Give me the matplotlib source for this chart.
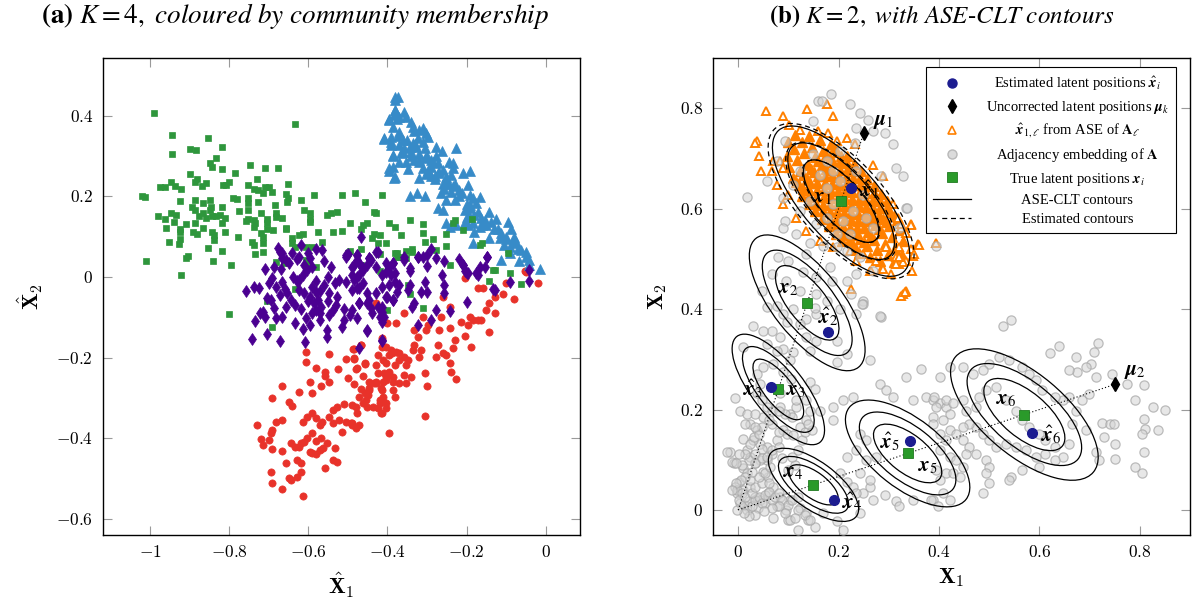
import numpy as np
import matplotlib.pyplot as plt
from matplotlib.patches import Ellipse
from matplotlib.lines import Line2D

plt.rcParams['font.family'] = ['Liberation Serif', 'DejaVu Serif']
plt.rcParams['mathtext.fontset'] = 'stix'

# ---------------- panel (a): K = 4 communities ----------------
green_sq = [(-0.99,0.407),(-0.635,0.38),(-0.944,0.352),(-0.853,0.345),(-0.944,0.305),(-0.899,0.318),(-0.884,0.315),(-0.818,0.323),(-0.835,0.295),(-0.848,0.283),(-0.845,0.273),(-0.818,0.268),(-0.787,0.258),(-0.749,0.278),(-0.709,0.27),(-0.676,0.27),(-0.899,0.256),(-0.886,0.236),(-0.881,0.243),(-0.858,0.233),(-0.87,0.226),(-0.975,0.223),(-0.962,0.223),(-0.949,0.236),(-0.937,0.226),(-0.922,0.218),(-1.02,0.201),(-1.013,0.199),(-0.924,0.189),(-0.886,0.191),(-0.848,0.191),(-0.868,0.184),(-0.815,0.228),(-0.808,0.228),(-0.8,0.236),(-0.792,0.196),(-0.782,0.194),(-0.752,0.228),(-0.739,0.218),(-0.727,0.216),(-0.729,0.243),(-0.709,0.223),(-0.699,0.223),(-0.716,0.208),(-0.691,0.211),(-0.651,0.231),(-0.754,0.196),(-0.752,0.184),(-0.754,0.166),(-0.727,0.186),(-0.656,0.206),(-0.651,0.196),(-0.653,0.186),(-0.62,0.191),(-0.587,0.203),(-0.516,0.203),(-0.481,0.208),(-0.458,0.186),(-0.413,0.203),(-0.684,0.179),(-0.894,0.174),(-0.886,0.166),(-0.868,0.159),(-0.848,0.166),(-0.947,0.159),(-0.934,0.154),(-0.98,0.151),(-0.962,0.144),(-0.939,0.136),(-0.911,0.131),(-0.886,0.134),(-0.876,0.151),(-0.858,0.146),(-0.843,0.151),(-0.833,0.151),(-0.823,0.154),(-0.81,0.146),(-0.82,0.134),(-0.818,0.174),(-0.846,0.174),(-0.775,0.164),(-0.759,0.139),(-0.752,0.144),(-0.739,0.141),(-0.734,0.134),(-0.739,0.124),(-0.719,0.159),(-0.706,0.144),(-0.704,0.134),(-0.706,0.119),(-0.681,0.159),(-0.681,0.149),(-0.668,0.146),(-0.658,0.122),(-0.61,0.166),(-0.595,0.159),(-0.597,0.144),(-0.597,0.136),(-0.552,0.154),(-0.542,0.159),(-0.529,0.161),(-0.96,0.122),(-0.924,0.119),(-0.924,0.112),(-0.891,0.112),(-0.881,0.107),(-0.866,0.122),(-0.924,0.094),(-0.927,0.082),(-0.952,0.087),(-0.843,0.112),(-0.838,0.104),(-0.838,0.092),(-0.81,0.112),(-0.777,0.099),(-0.853,0.072),(-0.82,0.065),(-0.909,0.047),(-0.904,0.052),(-1.01,0.04),(-0.841,0.04),(-0.922,0.005),(-0.795,0.03),(-0.742,0.087),(-0.737,0.079),(-0.714,0.084),(-0.716,0.099),(-0.719,0.109),(-0.734,0.057),(-0.714,0.062),(-0.689,0.117),(-0.658,0.119),(-0.641,0.097),(-0.641,0.084),(-0.625,0.104),(-0.615,0.107),(-0.633,0.074),(-0.605,0.074),(-0.592,0.074),(-0.565,0.087),(-0.577,0.112),(-0.539,0.112),(-0.516,0.114),(-0.494,0.134),(-0.463,0.129),(-0.453,0.134),(-0.468,0.119),(-0.397,0.134),(-0.38,0.124),(-0.433,0.161),(-0.43,0.159),(-0.435,0.107),(-0.418,0.104),(-0.423,0.084),(-0.403,0.084),(-0.44,0.097),(-0.499,0.06),(-0.494,0.065),(-0.466,0.069),(-0.605,0.042),(-0.6,0.03),(-0.58,0.025),(-0.681,0.037),(-0.661,0.035),(-0.382,0.06),(-0.375,0.05),(-0.418,0.015),(-0.367,0.104),(-0.344,0.141),(-0.309,0.131),(-0.311,0.109),(-0.306,0.087),(-0.286,0.094),(-0.251,0.107),(-0.251,0.077),(-0.278,0.067),(-0.233,0.134),(-0.228,0.141),(-0.21,0.117),(-0.185,0.144),(-0.162,0.084),(-0.167,0.079),(-0.094,0.06),(-0.129,0.017),(-0.091,0.01),(-0.243,0.03),(-0.337,0.069),(-0.352,0.065),(-0.377,0.06),(-0.132,0.017),(-0.142,-0.01),(-0.063,-0.017),(-0.342,-0.042),(-0.309,-0.077),(-0.4,-0.082),(-0.418,0.057),(-0.37,0.05),(-0.352,0.047),(-0.337,0.062),(-0.413,0.01),(-0.466,0.03),(-0.349,-0.02),(-0.8,-0.092),(-0.691,-0.124),(-0.704,-0.06),(-0.633,-0.03)]

purple_dm = [(-0.759,-0.035),(-0.739,-0.025),(-0.724,-0.027),(-0.711,0.02),(-0.673,0.062),(-0.666,0.047),(-0.648,0.035),(-0.699,-0.015),(-0.691,-0.002),(-0.681,-0.025),(-0.668,-0.012),(-0.704,-0.052),(-0.694,-0.057),(-0.673,-0.045),(-0.686,-0.077),(-0.734,-0.109),(-0.722,-0.089),(-0.711,-0.099),(-0.716,-0.087),(-0.744,-0.154),(-0.704,-0.141),(-0.673,-0.159),(-0.681,-0.102),(-0.666,-0.099),(-0.656,-0.074),(-0.643,-0.057),(-0.653,-0.04),(-0.635,-0.069),(-0.633,-0.114),(-0.615,-0.129),(-0.605,-0.102),(-0.595,-0.119),(-0.608,-0.161),(-0.623,-0.007),(-0.615,0.005),(-0.603,0.017),(-0.59,0.025),(-0.623,-0.032),(-0.61,-0.04),(-0.597,-0.05),(-0.59,-0.025),(-0.58,-0.037),(-0.577,-0.057),(-0.567,-0.074),(-0.572,-0.089),(-0.58,-0.082),(-0.585,-0.065),(-0.572,-0.107),(-0.552,-0.132),(-0.552,-0.149),(-0.547,-0.094),(-0.539,-0.082),(-0.527,-0.05),(-0.547,-0.04),(-0.534,-0.015),(-0.522,-0.007),(-0.504,-0.012),(-0.489,-0.032),(-0.471,-0.027),(-0.463,-0.015),(-0.478,0.0),(-0.453,-0.04),(-0.446,-0.057),(-0.471,-0.065),(-0.489,-0.082),(-0.478,-0.102),(-0.496,-0.094),(-0.509,-0.107),(-0.516,-0.124),(-0.451,-0.134),(-0.438,-0.089),(-0.425,-0.074),(-0.415,-0.087),(-0.408,-0.099),(-0.413,-0.112),(-0.415,-0.159),(-0.471,-0.176),(-0.428,-0.04),(-0.413,-0.025),(-0.4,-0.05),(-0.387,-0.057),(-0.39,0.005),(-0.382,-0.012),(-0.395,0.022),(-0.403,0.035),(-0.504,0.055),(-0.489,0.025),(-0.476,0.042),(-0.453,0.03),(-0.428,0.025),(-0.415,0.005),(-0.676,0.072),(-0.668,0.06),(-0.656,0.042),(-0.641,0.06),(-0.623,0.05),(-0.595,0.047),(-0.565,0.067),(-0.542,0.025),(-0.504,0.05),(-0.478,0.055),(-0.471,0.035),(-0.428,0.062),(-0.441,0.042),(-0.463,0.017),(-0.489,0.005),(-0.686,0.025),(-0.466,0.099),(-0.291,0.069),(-0.322,0.05),(-0.299,0.027),(-0.276,0.047),(-0.258,0.04),(-0.22,0.045),(-0.21,0.03),(-0.2,0.01),(-0.177,0.01),(-0.167,0.025),(-0.147,0.05),(-0.041,0.017),(-0.357,0.05),(-0.344,0.015),(-0.385,0.035),(-0.403,0.012),(-0.425,0.062),(-0.446,0.047),(-0.476,0.055),(-0.501,0.057),(-0.484,0.03),(-0.149,0.05),(-0.205,0.015),(-0.197,0.01),(-0.21,0.03),(-0.154,0.025),(-0.172,0.005),(-0.132,-0.03),(-0.129,-0.032),(-0.091,-0.012),(-0.041,-0.01),(-0.2,-0.062),(-0.256,-0.02),(-0.256,-0.04),(-0.243,-0.084),(-0.276,-0.082),(-0.291,-0.107),(-0.322,-0.119),(-0.263,0.005),(-0.299,0.055),(-0.324,0.05),(-0.299,-0.037),(-0.306,-0.012),(-0.314,-0.037),(-0.332,-0.065),(-0.337,-0.074),(-0.344,-0.02),(-0.349,-0.032),(-0.37,-0.02),(-0.377,-0.037),(-0.387,-0.057),(-0.403,-0.05),(-0.395,-0.02),(-0.413,-0.074),(-0.42,-0.099),(-0.451,-0.132),(-0.415,-0.156),(-0.441,-0.077),(-0.453,-0.065),(-0.471,-0.065),(-0.476,-0.027),(-0.484,-0.007),(-0.471,0.005),(-0.463,0.022),(-0.446,0.047),(-0.387,0.035),(-0.382,0.01),(-0.357,0.042),(-0.344,0.022),(-0.311,0.05),(-0.6,-0.06),(-0.62,-0.08),(-0.59,-0.09),(-0.63,-0.01),(-0.64,0.0),(-0.58,-0.01),(-0.56,-0.02),(-0.61,0.03),(-0.55,0.0),(-0.66,-0.03),(-0.67,0.02),(-0.6,0.06),(-0.62,0.08),(-0.63,0.045),(-0.56,0.04),(-0.58,0.07),(-0.55,-0.06),(-0.57,-0.035),(-0.53,-0.07),(-0.51,-0.08)]

red_ci = [(-0.605,-0.186),(-0.605,-0.211),(-0.582,-0.226),(-0.549,-0.191),(-0.557,-0.236),(-0.559,-0.246),(-0.547,-0.261),(-0.524,-0.228),(-0.501,-0.251),(-0.478,-0.226),(-0.504,-0.203),(-0.484,-0.203),(-0.458,-0.213),(-0.484,-0.179),(-0.466,-0.169),(-0.595,-0.261),(-0.567,-0.271),(-0.59,-0.288),(-0.623,-0.285),(-0.666,-0.271),(-0.691,-0.301),(-0.648,-0.31),(-0.641,-0.32),(-0.668,-0.355),(-0.681,-0.36),(-0.691,-0.38),(-0.694,-0.387),(-0.729,-0.367),(-0.719,-0.402),(-0.716,-0.417),(-0.699,-0.404),(-0.691,-0.427),(-0.666,-0.432),(-0.643,-0.412),(-0.635,-0.422),(-0.623,-0.422),(-0.618,-0.412),(-0.61,-0.41),(-0.603,-0.4),(-0.59,-0.387),(-0.58,-0.407),(-0.567,-0.4),(-0.554,-0.412),(-0.562,-0.424),(-0.572,-0.429),(-0.58,-0.439),(-0.597,-0.434),(-0.613,-0.36),(-0.603,-0.347),(-0.592,-0.337),(-0.58,-0.35),(-0.572,-0.367),(-0.565,-0.36),(-0.547,-0.347),(-0.539,-0.33),(-0.527,-0.323),(-0.509,-0.315),(-0.489,-0.318),(-0.471,-0.298),(-0.458,-0.288),(-0.446,-0.275),(-0.428,-0.263),(-0.403,-0.256),(-0.395,-0.243),(-0.387,-0.261),(-0.413,-0.281),(-0.42,-0.305),(-0.403,-0.313),(-0.415,-0.337),(-0.395,-0.387),(-0.425,-0.325),(-0.453,-0.323),(-0.476,-0.337),(-0.489,-0.362),(-0.504,-0.36),(-0.522,-0.355),(-0.539,-0.362),(-0.514,-0.385),(-0.489,-0.367),(-0.534,-0.424),(-0.527,-0.459),(-0.539,-0.454),(-0.559,-0.474),(-0.59,-0.437),(-0.694,-0.484),(-0.691,-0.511),(-0.668,-0.526),(-0.648,-0.499),(-0.643,-0.504),(-0.63,-0.496),(-0.618,-0.484),(-0.615,-0.543),(-0.656,-0.462),(-0.63,-0.454),(-0.618,-0.462),(-0.428,-0.065),(-0.4,-0.114),(-0.413,-0.151),(-0.413,-0.174),(-0.395,-0.194),(-0.382,-0.218),(-0.387,-0.248),(-0.408,-0.238),(-0.428,-0.261),(-0.486,-0.179),(-0.467,-0.169),(-0.484,-0.202),(-0.479,-0.227),(-0.458,-0.216),(-0.462,-0.246),(-0.484,-0.266),(-0.467,-0.279),(-0.45,-0.293),(-0.479,-0.322),(-0.462,-0.312),(-0.454,-0.305),(-0.492,-0.363),(-0.479,-0.375),(-0.473,-0.367),(-0.437,-0.322),(-0.42,-0.312),(-0.416,-0.338),(-0.403,-0.326),(-0.306,-0.345),(-0.3,-0.27),(-0.306,-0.239),(-0.226,-0.254),(-0.239,-0.235),(-0.243,-0.214),(-0.251,-0.194),(-0.277,-0.198),(-0.26,-0.189),(-0.235,-0.177),(-0.273,-0.169),(-0.27,-0.132),(-0.243,-0.127),(-0.213,-0.111),(-0.197,-0.119),(-0.192,-0.098),(-0.184,-0.107),(-0.171,-0.107),(-0.163,-0.107),(-0.142,-0.136),(-0.188,-0.173),(-0.205,-0.146),(-0.23,-0.156),(-0.264,-0.098),(-0.298,-0.119),(-0.302,-0.132),(-0.311,-0.098),(-0.332,-0.132),(-0.323,-0.15),(-0.332,-0.169),(-0.336,-0.181),(-0.315,-0.181),(-0.319,-0.198),(-0.357,-0.198),(-0.353,-0.218),(-0.37,-0.206),(-0.378,-0.185),(-0.391,-0.181),(-0.403,-0.173),(-0.412,-0.206),(-0.429,-0.218),(-0.425,-0.239),(-0.412,-0.26),(-0.403,-0.247),(-0.387,-0.28),(-0.382,-0.297),(-0.412,-0.297),(-0.416,-0.276),(-0.433,-0.264),(-0.446,-0.26),(-0.357,-0.243),(-0.353,-0.264),(-0.37,-0.264),(-0.34,-0.247),(-0.357,-0.089),(-0.378,-0.115),(-0.425,-0.194),(-0.403,-0.214),(-0.388,-0.189),(-0.37,-0.189),(-0.349,-0.206),(-0.395,-0.235),(-0.446,-0.28),(-0.26,-0.049),(-0.243,-0.074),(-0.15,-0.082),(-0.142,-0.065),(-0.129,-0.049),(-0.108,-0.041),(-0.08,-0.055),(-0.1,-0.016),(-0.159,-0.028),(-0.171,-0.027),(-0.205,-0.003),(-0.051,0.016),(-0.019,-0.014),(-0.129,-0.09),(-0.049,0.013)]

blue_tri = [(-0.374,0.446),(-0.382,0.439),(-0.381,0.414),(-0.384,0.402),(-0.357,0.41),(-0.353,0.396),(-0.395,0.391),(-0.376,0.391),(-0.371,0.396),(-0.387,0.373),(-0.34,0.385),(-0.336,0.373),(-0.332,0.361),(-0.319,0.365),(-0.311,0.369),(-0.302,0.357),(-0.298,0.348),(-0.41,0.342),(-0.391,0.348),(-0.374,0.35),(-0.391,0.328),(-0.387,0.299),(-0.371,0.328),(-0.361,0.34),(-0.357,0.319),(-0.365,0.307),(-0.344,0.323),(-0.336,0.332),(-0.327,0.323),(-0.323,0.344),(-0.309,0.336),(-0.304,0.319),(-0.319,0.305),(-0.34,0.299),(-0.353,0.286),(-0.37,0.286),(-0.385,0.274),(-0.397,0.264),(-0.384,0.246),(-0.349,0.267),(-0.332,0.29),(-0.319,0.284),(-0.306,0.294),(-0.277,0.322),(-0.262,0.313),(-0.277,0.299),(-0.285,0.286),(-0.273,0.282),(-0.289,0.274),(-0.298,0.266),(-0.302,0.256),(-0.319,0.245),(-0.289,0.251),(-0.281,0.242),(-0.273,0.257),(-0.26,0.266),(-0.251,0.249),(-0.245,0.286),(-0.235,0.282),(-0.226,0.321),(-0.233,0.27),(-0.239,0.253),(-0.228,0.231),(-0.218,0.216),(-0.233,0.226),(-0.247,0.231),(-0.258,0.218),(-0.264,0.208),(-0.251,0.191),(-0.273,0.17),(-0.26,0.166),(-0.209,0.257),(-0.192,0.264),(-0.197,0.228),(-0.211,0.208),(-0.192,0.203),(-0.184,0.195),(-0.167,0.199),(-0.175,0.183),(-0.192,0.179),(-0.205,0.166),(-0.192,0.15),(-0.18,0.154),(-0.163,0.146),(-0.154,0.141),(-0.142,0.16),(-0.137,0.137),(-0.125,0.143),(-0.15,0.129),(-0.167,0.125),(-0.184,0.133),(-0.205,0.137),(-0.226,0.129),(-0.243,0.125),(-0.251,0.133),(-0.095,0.137),(-0.087,0.118),(-0.112,0.108),(-0.116,0.096),(-0.1,0.094),(-0.083,0.084),(-0.074,0.088),(-0.106,0.079),(-0.091,0.075),(-0.184,0.084),(-0.142,0.096),(-0.062,0.067),(-0.049,0.063),(-0.041,0.042),(-0.066,0.04),(-0.041,0.03),(-0.015,0.02),(-0.112,0.042),(-0.344,0.202),(-0.325,0.208),(-0.306,0.202),(-0.197,0.129),(-0.18,0.112),(-0.38,0.447),(-0.382,0.414),(-0.395,0.39),(-0.408,0.344),(-0.391,0.336),(-0.387,0.303),(-0.395,0.27),(-0.382,0.249),(-0.33,0.33),(-0.35,0.34),(-0.3,0.3),(-0.29,0.29),(-0.31,0.27),(-0.27,0.26),(-0.28,0.25),(-0.25,0.24),(-0.26,0.23),(-0.24,0.21),(-0.22,0.2),(-0.23,0.19),(-0.2,0.18),(-0.19,0.17),(-0.17,0.16),(-0.2,0.15),(-0.16,0.13),(-0.13,0.12),(-0.12,0.12),(-0.1,0.1),(-0.08,0.1),(-0.07,0.07),(-0.05,0.05),(-0.09,0.06),(-0.37,0.36),(-0.36,0.31),(-0.34,0.31),(-0.32,0.29)]

# ---------------- panel (b): K = 2 with ASE-CLT contours ----------------
grey_pts = [(0.185,0.828),(0.222,0.809),(0.160,0.814),(0.166,0.814),(0.149,0.775),(0.242,0.790),(0.235,0.761),(0.269,0.754),(0.292,0.751),(0.232,0.731),(0.328,0.665),(0.335,0.602),(0.321,0.562),(0.285,0.665),(0.017,0.624),(0.093,0.575),(0.090,0.562),(0.116,0.549),(0.143,0.532),(0.169,0.526),(0.196,0.523),(0.216,0.516),(0.242,0.503),(0.269,0.476),(0.235,0.470),(0.182,0.483),(0.136,0.509),(0.100,0.496),(0.080,0.503),(0.130,0.473),(0.156,0.463),(0.186,0.456),(0.216,0.456),(0.225,0.430),(0.249,0.417),(0.202,0.400),(0.176,0.417),(0.156,0.430),(0.123,0.437),(0.096,0.456),(0.067,0.470),(0.047,0.437),(0.057,0.404),(0.090,0.390),(0.156,0.390),(0.136,0.380),
(0.163,0.668),(0.189,0.675),(0.176,0.642),(0.202,0.655),(0.235,0.675),(0.249,0.628),(0.229,0.595),(0.255,0.582),(0.209,0.575),(0.176,0.582),(0.143,0.615),(0.189,0.609),(0.269,0.562),(0.222,0.549),(0.196,0.549),(0.156,0.569),(0.123,0.595),(0.110,0.648),(0.123,0.675),(0.149,0.708),(0.176,0.694),(0.202,0.714),(0.315,0.681),(0.308,0.728),(0.259,0.777),(0.093,0.734),(0.077,0.694),(0.057,0.655),(0.090,0.622),
(0.077,0.407),(0.110,0.400),(0.153,0.403),(0.097,0.374),(0.123,0.370),(0.136,0.344),(0.156,0.337),(0.196,0.337),(0.196,0.294),(0.216,0.311),(0.235,0.390),(0.249,0.410),(0.285,0.385),(0.262,0.298),(0.143,0.317),(0.110,0.314),(0.090,0.321),(0.103,0.298),(0.083,0.344),(0.067,0.357),
(0.030,0.367),(0.050,0.357),(0.057,0.331),(0.077,0.317),(0.010,0.324),(-0.006,0.222),(0.004,0.198),(0.024,0.172),(0.037,0.159),(0.044,0.132),(0.030,0.139),(0.010,0.142),(0.017,0.119),(0.024,0.106),(0.057,0.126),(0.067,0.112),(0.057,0.099),(0.044,0.099),(0.034,0.093),(-0.009,0.093),(-0.016,0.116),(0.010,0.083),(0.017,0.073),(0.001,0.056),(-0.006,0.046),(-0.003,0.033),(0.010,0.040),(0.024,0.046),(0.034,0.026),(0.044,0.020),(0.054,0.013),(0.040,0.003),(0.017,0.007),(0.004,0.013),(0.060,0.033),(0.070,0.046),(0.083,0.026),(0.077,0.007),(0.096,0.000),(0.103,0.020),(0.123,0.003),(0.136,-0.007),(0.139,-0.020),(0.100,-0.020),(0.070,-0.016),(0.060,0.066),(0.050,0.076),(0.067,0.172),(0.090,0.159),(0.097,0.152),(0.110,0.149),(0.123,0.165),(0.136,0.179),(0.037,0.232),(0.047,0.218),(0.057,0.205),(0.050,0.185),(0.083,0.205),(0.103,0.192),(0.116,0.205),(0.037,0.271),(0.050,0.284),(0.070,0.291),(0.090,0.274),(0.106,0.261),(0.143,0.255),(0.153,0.241),(0.136,0.218),(0.116,0.218),(0.083,0.232),(0.044,0.251),
(0.143,0.198),(0.163,0.198),(0.189,0.205),(0.189,0.179),(0.209,0.218),(0.229,0.225),(0.282,0.251),(0.295,0.238),(0.308,0.225),(0.335,0.265),(0.364,0.281),(0.348,0.218),(0.374,0.225),(0.388,0.218),(0.401,0.212),(0.414,0.205),(0.421,0.159),(0.388,0.185),(0.242,0.152),(0.255,0.139),(0.235,0.119),(0.216,0.106),(0.202,0.073),(0.216,0.056),(0.229,0.046),(0.249,0.033),(0.262,0.046),(0.269,0.020),(0.242,0.073),(0.255,0.099),(0.275,0.106),(0.235,0.033),(0.292,0.030),(0.315,0.017),(0.262,0.060),(0.242,-0.007),(0.169,-0.007),(0.153,-0.033),(0.196,-0.023),(0.209,-0.040),(0.120,-0.040),(0.103,-0.020),(0.321,0.007),(0.348,0.020),(0.388,0.020),(0.407,0.033),(0.414,0.073),(0.401,0.060),(0.421,0.020),
(-0.002,0.040),(0.008,0.033),(0.001,0.020),(0.011,0.010),(0.021,0.017),(0.018,0.000),(0.028,0.007),(0.034,0.020),(0.041,0.026),(0.048,0.013),(0.054,0.030),(0.061,0.036),(0.067,0.020),(0.074,0.026),(0.081,0.033),(0.087,0.020),(0.014,0.026),(0.028,0.033),(0.034,0.046),(0.048,0.053),(0.061,0.053),(0.024,0.060),(0.014,0.066),(0.005,0.060),(-0.005,0.053),(-0.012,0.040),(0.041,0.066),(0.054,0.073),(0.028,0.076),(0.034,0.093),(0.021,0.099),(0.014,0.112),(0.034,0.112),(0.024,0.132),(0.031,0.146),(0.041,0.152),(0.048,0.165),(0.034,0.165),(0.014,0.172),(0.018,0.192),(0.034,0.192),(0.048,0.122),(0.048,0.103),(0.058,0.106),(0.067,0.119),(0.077,0.139),(0.081,0.155),(0.081,0.126),(0.087,0.103),(0.064,0.086),(-0.012,0.096),(-0.022,0.116),(0.001,0.112),(0.008,0.089),(-0.005,0.093),(0.100,0.010),(0.107,0.020),(0.120,0.026),(0.081,0.007),(0.067,0.003),(0.051,-0.003),(0.034,-0.010),(0.021,-0.013),(0.011,-0.007),(-0.002,0.000),(0.094,-0.007),(0.120,0.000),(0.114,-0.016),(0.134,-0.010),(0.143,-0.020),(0.100,0.079),(0.114,0.089),(0.107,0.106),(0.120,0.119),(0.127,0.139),(0.134,0.155),(0.147,0.159),(0.140,0.172),(0.107,0.185),(0.094,0.192),(0.067,0.198),(0.061,0.179),(0.081,0.198),
(0.528,0.366),(0.543,0.379),(0.639,0.327),(0.622,0.312),(0.672,0.304),(0.708,0.314),(0.717,0.332),(0.703,0.291),(0.692,0.284),(0.675,0.274),(0.659,0.278),(0.712,0.265),(0.745,0.271),(0.775,0.251),(0.808,0.248),(0.791,0.218),(0.827,0.205),(0.851,0.200),(0.808,0.182),(0.837,0.159),(0.811,0.162),(0.804,0.152),(0.725,0.174),(0.741,0.172),(0.748,0.172),(0.728,0.146),(0.751,0.132),(0.712,0.116),(0.718,0.099),(0.751,0.102),(0.808,0.116),(0.804,0.073),(0.791,0.086),(0.692,0.159),(0.665,0.172),(0.672,0.198),(0.685,0.218),(0.698,0.231),(0.659,0.225),(0.646,0.218),(0.632,0.225),(0.606,0.238),(0.593,0.258),(0.579,0.271),(0.566,0.284),(0.540,0.298),(0.520,0.304),(0.500,0.291),(0.487,0.278),(0.467,0.271),(0.447,0.284),(0.421,0.284),(0.401,0.265),(0.391,0.225),(0.394,0.205),(0.414,0.218),(0.427,0.212),(0.421,0.192),(0.407,0.179),(0.388,0.172),(0.447,0.218),(0.454,0.198),(0.474,0.205),(0.480,0.225),(0.493,0.238),(0.513,0.245),(0.533,0.218),(0.553,0.198),(0.566,0.179),(0.579,0.165),(0.599,0.152),(0.612,0.139),(0.632,0.126),(0.659,0.132),(0.646,0.106),(0.612,0.112),(0.593,0.106),(0.573,0.119),(0.553,0.126),(0.533,0.132),(0.513,0.126),(0.500,0.139),(0.487,0.152),(0.474,0.165),(0.460,0.172),(0.447,0.165),(0.434,0.152),(0.447,0.139),(0.460,0.126),(0.474,0.112),(0.493,0.099),(0.500,0.086),(0.493,0.073),(0.543,0.066),(0.540,0.060),(0.500,0.053),(0.487,0.033),(0.566,0.079),(0.599,0.086),(0.632,0.099),(0.401,0.152),(0.414,0.139),(0.401,0.119),(0.421,0.106),(0.434,0.099),(0.447,0.086),(0.454,0.112),(0.394,0.079),(0.427,0.073),(0.441,0.066),(0.398,0.007),(0.384,0.020),
(0.337,0.602),(0.395,0.526),(0.247,0.411),(0.283,0.386)]

orange_core = [(0.114,0.747),(0.099,0.733),(0.127,0.732),(0.112,0.718),(0.142,0.745),(0.097,0.705),(0.132,0.710),(0.147,0.723),(0.117,0.697),(0.162,0.737),(0.102,0.684),(0.154,0.702),(0.139,0.688),(0.169,0.715),(0.124,0.675),(0.184,0.728),(0.109,0.662),(0.167,0.687),(0.152,0.673),(0.182,0.700),(0.137,0.660),(0.197,0.713),(0.122,0.647),(0.172,0.665),(0.187,0.678),(0.157,0.652),(0.202,0.692),(0.142,0.638),(0.217,0.705),(0.127,0.625),(0.186,0.650),(0.201,0.663),(0.171,0.637),(0.216,0.677),(0.156,0.623),(0.231,0.690),(0.141,0.610),(0.199,0.635),(0.214,0.648),(0.184,0.622),(0.229,0.662),(0.169,0.608),(0.244,0.675),(0.154,0.595),(0.212,0.620),(0.227,0.633),(0.197,0.607),(0.242,0.647),(0.182,0.593),(0.257,0.660),(0.167,0.580),(0.225,0.605),(0.240,0.618),(0.210,0.592),(0.255,0.632),(0.195,0.578),(0.270,0.645),(0.180,0.565),(0.239,0.590),(0.254,0.603),(0.224,0.577),(0.269,0.617),(0.209,0.563),(0.284,0.630),(0.194,0.550),(0.252,0.575),(0.267,0.588),(0.237,0.562),(0.282,0.602),(0.222,0.548),(0.297,0.615),(0.207,0.535),(0.273,0.567),(0.258,0.553),(0.288,0.580),(0.243,0.540),(0.303,0.593),(0.228,0.527),(0.286,0.552),(0.271,0.538),(0.301,0.565),(0.256,0.525),(0.316,0.578),(0.241,0.512),(0.292,0.530),(0.307,0.543),(0.277,0.517),(0.322,0.557),(0.262,0.504),(0.313,0.522),(0.298,0.508),(0.328,0.535),(0.283,0.495),(0.326,0.507),(0.311,0.493),
(0.160,0.694),(0.145,0.680),(0.175,0.707),(0.130,0.667),(0.190,0.720),(0.115,0.654),(0.174,0.679),(0.159,0.665),(0.189,0.692),(0.144,0.652),(0.204,0.705),(0.129,0.639),(0.187,0.665),(0.172,0.651),(0.202,0.678),(0.157,0.638),(0.217,0.691),(0.142,0.625),(0.200,0.650),(0.185,0.636),(0.215,0.663),(0.170,0.623),(0.230,0.676),(0.155,0.610),(0.213,0.635),(0.198,0.621),(0.228,0.648),(0.183,0.608),(0.243,0.661),(0.168,0.595),(0.227,0.620),(0.212,0.606),(0.242,0.633),(0.197,0.593),(0.257,0.646),(0.182,0.580),(0.240,0.605),(0.225,0.591),(0.255,0.618),(0.210,0.578),(0.270,0.631),(0.195,0.565),(0.253,0.589),(0.238,0.575),(0.268,0.602),(0.223,0.562),(0.283,0.615),(0.208,0.549),(0.266,0.575),(0.251,0.561),(0.281,0.588),(0.236,0.548),(0.296,0.601),(0.221,0.535),(0.280,0.560),(0.265,0.546),(0.295,0.573),(0.250,0.533),(0.310,0.586),(0.235,0.520)]

orange_out = [(0.056,0.794),(0.090,0.785),(0.138,0.799),(0.176,0.809),(0.189,0.784),(0.037,0.734),(0.034,0.731),(0.042,0.704),(0.045,0.676),(0.077,0.648),(0.102,0.767),(0.123,0.757),(0.159,0.754),(0.179,0.751),(0.196,0.734),(0.216,0.741),(0.232,0.728),(0.268,0.688),(0.288,0.665),(0.308,0.609),(0.318,0.582),(0.325,0.562),(0.345,0.569),(0.358,0.529),(0.345,0.519),(0.348,0.506),(0.335,0.496),(0.321,0.490),(0.315,0.503),(0.287,0.482),(0.262,0.476),(0.235,0.496),(0.225,0.440),(0.328,0.430),(0.335,0.437),(0.395,0.532),(0.305,0.470),(0.275,0.496),(0.295,0.523),(0.321,0.523),(0.090,0.681),(0.083,0.694),(0.070,0.694),(0.067,0.675),(0.100,0.628),(0.090,0.609),(0.116,0.582),(0.136,0.556),(0.163,0.536),(0.189,0.523),(0.222,0.516),(0.249,0.509),(0.345,0.567),(0.360,0.528),(0.346,0.476),(0.325,0.426),(0.333,0.435),(0.351,0.509),(0.328,0.493),(0.288,0.479),(0.265,0.476),(0.315,0.489),(0.321,0.503),(0.325,0.569),(0.335,0.552)]

true_x = [0.2050, 0.1375, 0.0800, 0.1500, 0.3375, 0.5700]
true_y = [0.6150, 0.4125, 0.2400, 0.0500, 0.1125, 0.1900]
est_x = [0.224, 0.179, 0.066, 0.190, 0.343, 0.586]
est_y = [0.641, 0.355, 0.244, 0.020, 0.138, 0.153]
mu_x = [0.25, 0.75]
mu_y = [0.75, 0.25]

# outer contour semi-axes and tilt of each ASE-CLT ellipse
ell_a = [0.188, 0.164, 0.134, 0.106, 0.148, 0.179]
ell_b = [0.076, 0.0685, 0.0514, 0.0466, 0.069, 0.082]
ell_ang = [-48.6, -51.5, -51.9, -36.1, -38.2, -39.9]
levels = [0.549, 0.776, 1.0]

lab_true = [(0.169,0.622),(0.100,0.440),(0.116,0.238),(0.110,0.073),(0.378,0.086),(0.533,0.220)]
lab_est = [(0.262,0.638),(0.179,0.384),(0.030,0.241),(0.228,0.016),(0.302,0.135),(0.624,0.149)]
lab_mu = [(0.290,0.774),(0.790,0.276)]


fig = plt.figure(figsize=(11.97, 6.08), dpi=100)
axL = fig.add_axes([0.0860, 0.120, 0.3985, 0.7845])
axR = fig.add_axes([0.5957, 0.120, 0.3985, 0.7845])

def arr(p):
    a = np.array(p)
    return a[:, 0], a[:, 1]

x, y = arr(red_ci)
axL.plot(x, y, 'o', ms=5.2, color='#e8322a', mec='#e8322a', mew=0.5, ls='none')
x, y = arr(blue_tri)
axL.plot(x, y, '^', ms=6.5, color='#378bc8', mec='#378bc8', mew=0.5, ls='none')
x, y = arr(green_sq)
axL.plot(x, y, 's', ms=4.8, color='#2e963c', mec='#2e963c', mew=0.5, ls='none')
x, y = arr(purple_dm)
axL.plot(x, y, 'd', ms=6.0, color='#4b0091', mec='#4b0091', mew=0.5, ls='none')

axL.set_xlim(-1.12, 0.087)
axL.set_ylim(-0.64, 0.543)
axL.set_xticks([-1, -0.8, -0.6, -0.4, -0.2, 0])
axL.set_xticklabels([r'$-1$', r'$-0.8$', r'$-0.6$', r'$-0.4$', r'$-0.2$', r'$0$'], math_fontfamily='cm')
axL.set_yticks([-0.6, -0.4, -0.2, 0, 0.2, 0.4])
axL.set_yticklabels([r'$-0.6$', r'$-0.4$', r'$-0.2$', r'$0$', r'$0.2$', r'$0.4$'], math_fontfamily='cm')
axL.set_xlabel(r'$\hat{\mathbf{X}}_1$', fontsize=16, math_fontfamily='cm', labelpad=7)
axL.set_ylabel(r'$\hat{\mathbf{X}}_2$', fontsize=16, math_fontfamily='cm', labelpad=8)

# right panel
x, y = arr(orange_core)
axR.plot(x, y, '^', ms=7, color='#ff8000', mec='#ff8000', mew=1.0, ls='none', zorder=2)
x, y = arr(orange_out)
axR.plot(x, y, '^', ms=6, mfc='white', mec='#ff8000', mew=1.4, ls='none', zorder=2)
x, y = arr(grey_pts)
axR.scatter(x, y, s=44, facecolor=(0.83, 0.83, 0.83, 0.55), edgecolor=(0.66, 0.66, 0.66, 0.75),
            linewidths=0.9, zorder=3)

for k in range(2):
    axR.plot([0, mu_x[k]], [0, mu_y[k]], ls=(0, (1, 2)), color='black', lw=0.8, zorder=4)

for i in range(6):
    for lv in levels:
        axR.add_patch(Ellipse((true_x[i], true_y[i]), 2 * ell_a[i] * lv, 2 * ell_b[i] * lv,
                              angle=ell_ang[i], fill=False, ec='black', lw=0.9, zorder=5))
# estimated contours for x_1 (slightly wider than the ASE-CLT ones)
for lv, sa, sb in zip(levels, [1.01, 1.02, 1.04], [1.03, 1.05, 1.09]):
    axR.add_patch(Ellipse((true_x[0], true_y[0]), 2 * ell_a[0] * lv * sa, 2 * ell_b[0] * lv * sb,
                          angle=ell_ang[0] + 1, fill=False, ec='black', lw=0.9, ls=(0, (4, 3)), zorder=5))

for i in range(6):
    axR.text(*lab_true[i], r'$\mathbfit{x}_{%d}$' % (i + 1), fontsize=15, ha='center', va='center', zorder=6)
    axR.text(*lab_est[i], r'$\hat{\mathbfit{x}}_{%d}$' % (i + 1), fontsize=15, ha='center', va='center', zorder=6)
for k in range(2):
    axR.text(*lab_mu[k], r'$\mathbfit{\mu}_{%d}$' % (k + 1), fontsize=15, ha='center', va='center', zorder=6)

axR.plot(mu_x, mu_y, 'd', ms=7, color='black', ls='none', zorder=7)
axR.plot(true_x, true_y, 's', ms=6.5, color='#2a9a2a', mec='#1f7a1f', mew=0.6, ls='none', zorder=7)
axR.plot(est_x, est_y, 'o', ms=7, color='#1c1c90', mec='#1c1c90', ls='none', zorder=7)

axR.set_xlim(-0.05, 0.9)
axR.set_ylim(-0.05, 0.9)
axR.set_xticks([0, 0.2, 0.4, 0.6, 0.8])
axR.set_xticklabels([r'$0$', r'$0.2$', r'$0.4$', r'$0.6$', r'$0.8$'], math_fontfamily='cm')
axR.set_yticks([0, 0.2, 0.4, 0.6, 0.8])
axR.set_yticklabels([r'$0$', r'$0.2$', r'$0.4$', r'$0.6$', r'$0.8$'], math_fontfamily='cm')
axR.set_xlabel(r'$\mathbf{X}_1$', fontsize=16, math_fontfamily='cm', labelpad=4)
axR.set_ylabel(r'$\mathbf{X}_2$', fontsize=16, math_fontfamily='cm', labelpad=8)

for ax in (axL, axR):
    ax.tick_params(direction='in', length=6.5, width=0.8, color='#9a9a9a', top=True, right=True,
                   labelsize=12.5, pad=7)
    for sp in ax.spines.values():
        sp.set_linewidth(1.0)

handles = [
    Line2D([], [], marker='o', ls='none', ms=6.5, color='#1c1c90'),
    Line2D([], [], marker='d', ls='none', ms=7, color='black'),
    Line2D([], [], marker='^', ls='none', ms=5.5, mfc='white', mec='#ff8000', mew=1.2),
    Line2D([], [], marker='o', ls='none', ms=6.5, mfc=(0.86, 0.86, 0.86), mec=(0.72, 0.72, 0.72)),
    Line2D([], [], marker='s', ls='none', ms=6.5, color='#2a9a2a', mec='#1f7a1f', mew=0.6),
    Line2D([], [], color='black', lw=0.9),
    Line2D([], [], color='black', lw=0.9, ls=(0, (4, 3))),
]
labels = [r'Estimated latent positions $\hat{\mathbfit{x}}_i$',
          r'Uncorrected latent positions $\mathbfit{\mu}_k$',
          r'$\hat{\mathbfit{x}}_{1,\ell}$ from ASE of $\mathbf{A}_\ell$',
          r'Adjacency embedding of $\mathbf{A}$',
          r'True latent positions $\mathbfit{x}_i$',
          'ASE-CLT contours',
          'Estimated contours']
leg = axR.legend(handles, labels, loc='upper right', bbox_to_anchor=(0.971, 0.981), borderaxespad=0,
                 fontsize=10.5, frameon=True, fancybox=False, edgecolor='black', framealpha=1,
                 handlelength=2.6, handletextpad=1.0, labelspacing=0.42, borderpad=0.5)
leg.get_frame().set_linewidth(0.8)
leg.set_zorder(10)

# centre the legend texts as in the original (the legend keeps its size,
# its own left-aligned texts are hidden and redrawn centred)
fig.canvas.draw()
texts = leg.get_texts()
bbs = [t.get_window_extent() for t in texts]
cx = (min(b.x0 for b in bbs) + max(b.x1 for b in bbs)) / 2
W, H = fig.bbox.width, fig.bbox.height
for t in texts:
    px, py = t.get_transform().transform(t.get_position())
    fig.text(cx / W, py / H, t.get_text(), ha='center', va='baseline', fontsize=10.5, zorder=11)
    t.set_visible(False)

fig.text(0.246, 0.973, r'$\mathbf{(a)}\ K=4,\ \mathit{coloured\ by\ community\ membership}$',
         fontsize=19.5, ha='center', va='center')
fig.text(0.787, 0.973, r'$\mathbf{(b)}\ K=2,\ \mathit{with\ ASE\text{-}CLT\ contours}$',
         fontsize=18, ha='center', va='center')

fig.savefig('out.png', dpi=100)
